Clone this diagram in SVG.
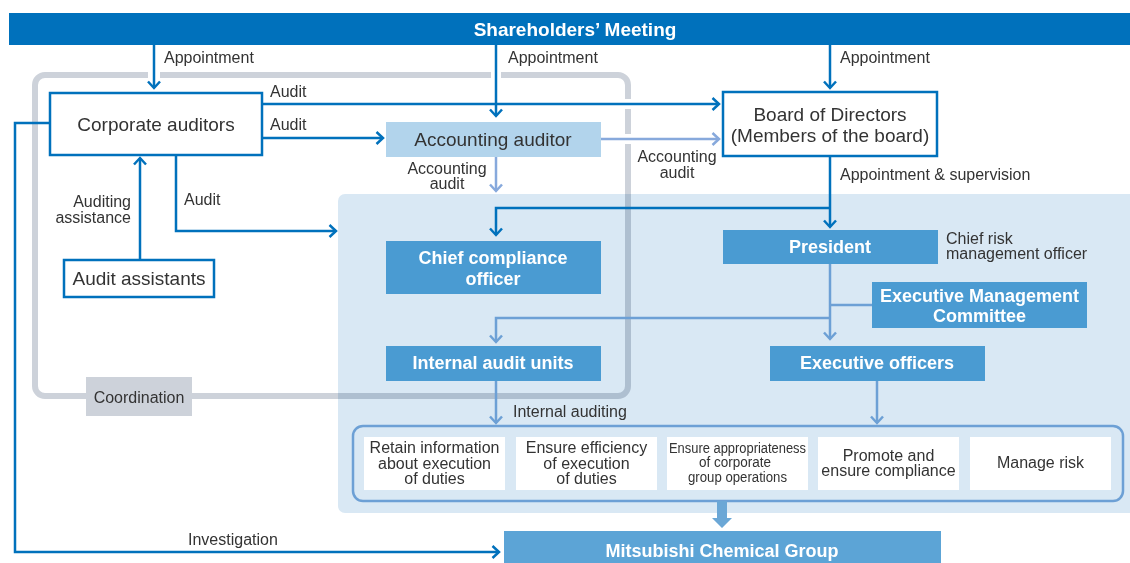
<svg xmlns="http://www.w3.org/2000/svg" width="1130" height="563" viewBox="0 0 1130 563">
<style>
text{font-family:"Liberation Sans",Arial,sans-serif;fill:#333}
.lbl{font-size:16px}
.nt{font-size:19px;text-anchor:middle}
.wt{font-size:18px;font-weight:bold;fill:#fff;text-anchor:middle}
.st{font-size:16px;text-anchor:middle}
.dk{fill:none;stroke:#0071BC;stroke-width:2.5}
.lt{fill:none;stroke:#6DA0D5;stroke-width:2.5}
.ac{fill:none;stroke:#87A9DC;stroke-width:2.5}
.box{fill:#4A9BD2}
.ob{fill:#fff;stroke:#0071BC;stroke-width:2.5}
.wb{fill:#fff}
</style>
<defs>
<marker id="aD" markerUnits="userSpaceOnUse" markerWidth="16" markerHeight="16" viewBox="-8 -8 16 16" refX="0" refY="0" orient="auto"><path d="M-6.5,-6 L0,0 L-6.5,6" fill="none" stroke="#0071BC" stroke-width="2.5"/></marker>
<marker id="aL" markerUnits="userSpaceOnUse" markerWidth="16" markerHeight="16" viewBox="-8 -8 16 16" refX="0" refY="0" orient="auto"><path d="M-6.5,-6 L0,0 L-6.5,6" fill="none" stroke="#6DA0D5" stroke-width="2.5"/></marker>
<marker id="aA" markerUnits="userSpaceOnUse" markerWidth="16" markerHeight="16" viewBox="-8 -8 16 16" refX="0" refY="0" orient="auto"><path d="M-6.5,-6 L0,0 L-6.5,6" fill="none" stroke="#87A9DC" stroke-width="2.5"/></marker>
</defs>

<!-- background panels -->
<rect id="panel" x="338" y="194" width="800" height="319" rx="7" fill="#D9E8F4"/>
<rect id="frame" x="35" y="75" width="593" height="321" rx="10" fill="none" stroke="#CDD2DA" stroke-width="6" style="mix-blend-mode:multiply"/>
<g id="halos" fill="#fff">
<rect x="148" y="70" width="12" height="10"/>
<rect x="491" y="70" width="10" height="10"/>
<rect x="623" y="99" width="10" height="10"/>
<rect x="623" y="134" width="10" height="10"/>
</g>

<g id="shareholders"><rect x="9" y="13" width="1121" height="32" fill="#0071BC"/><text class="wt" x="575" y="36" style="font-size:19px">Shareholders’ Meeting</text></g>

<g id="corporate-auditors"><rect class="ob" x="50" y="93" width="212" height="62"/><text class="nt" x="156" y="131">Corporate auditors</text></g>
<g id="audit-assistants"><rect class="ob" x="64" y="260" width="150" height="37"/><text class="nt" x="139" y="285">Audit assistants</text></g>
<g id="coordination"><rect x="86" y="377" width="106" height="39" fill="#CDD2DA"/><text class="st" x="139" y="403">Coordination</text></g>
<g id="accounting-auditor"><rect x="386" y="122" width="215" height="35" fill="#B2D4EC"/><text class="nt" x="493" y="146">Accounting auditor</text></g>
<g id="board"><rect class="ob" x="723" y="92" width="214" height="64"/><text class="nt" x="830" y="121">Board of Directors</text><text class="nt" x="830" y="142">(Members of the board)</text></g>
<g id="cco"><rect class="box" x="386" y="241" width="215" height="53"/><text class="wt" x="493" y="264">Chief compliance</text><text class="wt" x="493" y="285">officer</text></g>
<g id="president"><rect class="box" x="723" y="230" width="215" height="34"/><text class="wt" x="830" y="253">President</text></g>
<g id="crmo"><text class="lbl" x="946" y="244">Chief risk</text><text class="lbl" x="946" y="259">management officer</text></g>
<g id="emc"><rect class="box" x="872" y="282" width="215" height="46"/><text class="wt" x="979.5" y="302">Executive Management</text><text class="wt" x="979.5" y="322">Committee</text></g>
<g id="iau"><rect class="box" x="386" y="346" width="215" height="35"/><text class="wt" x="493" y="369">Internal audit units</text></g>
<g id="exec"><rect class="box" x="770" y="346" width="215" height="35"/><text class="wt" x="877" y="369">Executive officers</text></g>

<g id="functions">
<rect x="353" y="426" width="770" height="75" rx="10" fill="none" stroke="#6DA0D5" stroke-width="2.5"/>
<rect class="wb" x="364" y="437" width="141" height="53"/>
<text class="st" x="434.5" y="453">Retain information</text><text class="st" x="434.5" y="469">about execution</text><text class="st" x="434.5" y="484">of duties</text>
<rect class="wb" x="516" y="437" width="141" height="53"/>
<text class="st" x="586.5" y="453">Ensure efficiency</text><text class="st" x="586.5" y="469">of execution</text><text class="st" x="586.5" y="484">of duties</text>
<rect class="wb" x="667" y="437" width="141" height="53"/>
<text class="st" x="737.5" y="453" style="font-size:14px" textLength="137" lengthAdjust="spacingAndGlyphs">Ensure appropriateness</text>
<text class="st" x="735" y="467" style="font-size:14px" textLength="72" lengthAdjust="spacingAndGlyphs">of corporate</text>
<text class="st" x="737.5" y="482" style="font-size:14px" textLength="99" lengthAdjust="spacingAndGlyphs">group operations</text>
<rect class="wb" x="818" y="437" width="141" height="53"/>
<text class="st" x="888.5" y="461">Promote and</text><text class="st" x="888.5" y="476">ensure compliance</text>
<rect class="wb" x="970" y="437" width="141" height="53"/>
<text class="st" x="1040.5" y="468">Manage risk</text>
</g>

<g id="mcg"><rect x="504" y="531" width="437" height="32" fill="#5CA4D6"/><text class="wt" x="722" y="557">Mitsubishi Chemical Group</text></g>

<g id="connectors">
<path class="dk" d="M154,45 V88" marker-end="url(#aD)"/>
<path class="dk" d="M496,45 V116" marker-end="url(#aD)"/>
<path class="dk" d="M830,45 V88" marker-end="url(#aD)"/>
<path class="dk" d="M262,104 H719" marker-end="url(#aD)"/>
<path class="dk" d="M262,138 H383" marker-end="url(#aD)"/>
<path class="dk" d="M176,155 V231 H336" marker-end="url(#aD)"/>
<path class="dk" d="M140,260 V158" marker-end="url(#aD)"/>
<path class="dk" d="M50,123 H15 V552 H499" marker-end="url(#aD)"/>
<path class="ac" d="M601,139 H719" marker-end="url(#aA)"/>
<path class="ac" d="M496,157 V191" marker-end="url(#aA)"/>
<path class="dk" d="M830,156 V227" marker-end="url(#aD)"/>
<path class="dk" d="M830,208 H496 V235" marker-end="url(#aD)"/>
<path class="lt" d="M830,264 V339" marker-end="url(#aL)"/>
<path class="lt" d="M830,305 H872"/>
<path class="lt" d="M830,318 H496 V342" marker-end="url(#aL)"/>
<path class="lt" d="M496,381 V423" marker-end="url(#aL)"/>
<path class="lt" d="M877,381 V423" marker-end="url(#aL)"/>
<path d="M717,501 H727 V518 H732 L722,528 L712,518 H717 Z" fill="#6BA7D6"/>
</g>

<g id="labels">
<text class="lbl" x="164" y="63">Appointment</text>
<text class="lbl" x="508" y="63">Appointment</text>
<text class="lbl" x="840" y="63">Appointment</text>
<text class="lbl" x="270" y="97">Audit</text>
<text class="lbl" x="270" y="130">Audit</text>
<text class="lbl" x="184" y="205">Audit</text>
<text class="lbl" x="131" y="207" text-anchor="end">Auditing</text>
<text class="lbl" x="131" y="223" text-anchor="end">assistance</text>
<text class="lbl" x="447" y="174" text-anchor="middle">Accounting</text>
<text class="lbl" x="447" y="189" text-anchor="middle">audit</text>
<text class="lbl" x="677" y="162" text-anchor="middle">Accounting</text>
<text class="lbl" x="677" y="178" text-anchor="middle">audit</text>
<text class="lbl" x="840" y="180">Appointment &amp; supervision</text>
<text class="lbl" x="513" y="417">Internal auditing</text>
<text class="lbl" x="188" y="545">Investigation</text>
</g>
</svg>
